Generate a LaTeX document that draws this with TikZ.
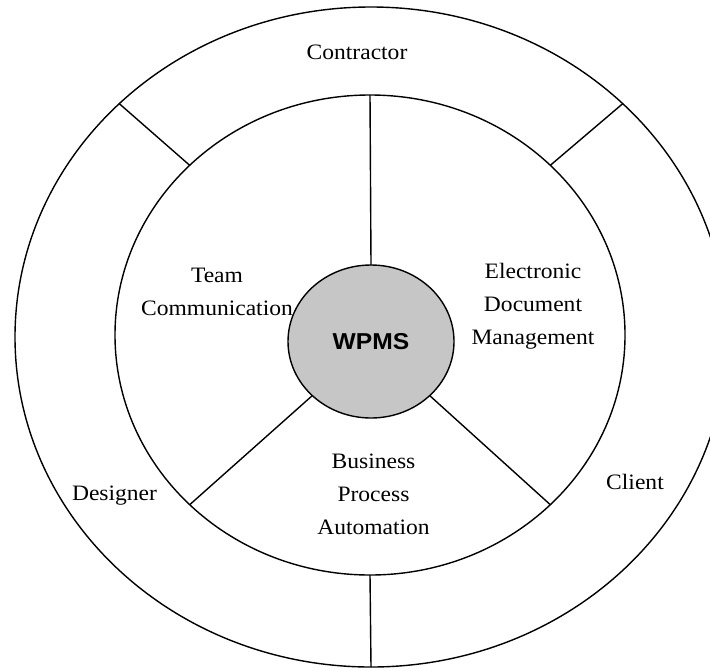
\documentclass[tikz,border=0pt]{standalone}
\usepackage{fontspec}
\setmainfont{Liberation Serif}[FakeStretch=1.07]
\newfontfamily\wpmsfont{Liberation Sans}[FakeStretch=1.07]
\usetikzlibrary{shapes.geometric}
\definecolor{corefill}{RGB}{198,198,198}
\begin{document}
\begin{tikzpicture}[x=0.5pt,y=-0.5pt,
  ring/.style={draw=black, line width=0.7pt, ellipse, inner sep=0pt, outer sep=0pt},
  spoke/.style={draw=black, line width=0.7pt},
  lbl/.style={align=center, inner sep=0pt, font=\fontsize{11pt}{16.5pt}\selectfont}]
\useasboundingbox (0,0) rectangle (710,669);
\clip (0,0) rectangle (710,669);
\fill[white] (0,0) rectangle (710,669);
\node[ring, minimum width=356pt, minimum height=330pt] (outer) at (371,337) {};
\node[ring, minimum width=255pt, minimum height=240pt] (inner) at (370,335) {};
\node[ring, fill=corefill, minimum width=83pt, minimum height=76.5pt,
      font=\wpmsfont\bfseries\fontsize{11.5pt}{14pt}\selectfont] (core) at (371,341.5) {WPMS};
\draw[spoke] (inner.north) -- (core.north);
\draw[spoke] (core.south west) -- (inner.south west);
\draw[spoke] (core.south east) -- (inner.south east);
\draw[spoke] (inner.north west) -- (outer.north west);
\draw[spoke] (inner.north east) -- (outer.north east);
\draw[spoke] (inner.south) -- (outer.south);
\node[lbl] (contractor) at (357,52) {Contractor};
\node[lbl] (team) at (217,292) {Team\\Communication};
\node[lbl] (edm) at (533,306) {Electronic\\Document\\Management};
\node[lbl] (bpa) at (373.5,494) {Business\\Process\\Automation};
\node[lbl] (designer) at (114.5,496) {Designer};
\node[lbl] (client) at (635,482) {Client};
\end{tikzpicture}
\end{document}
